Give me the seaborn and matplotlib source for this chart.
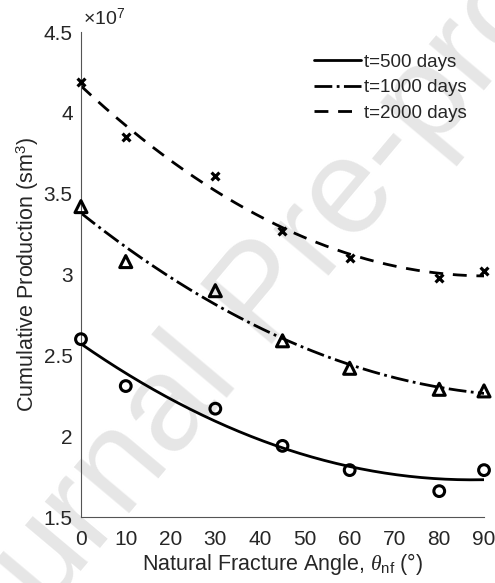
import numpy as np
import pandas as pd
import matplotlib
matplotlib.use("Agg")
import matplotlib.pyplot as plt
import seaborn as sns

# Data (values in units of 10^7 sm^3)
angles = [0, 10, 30, 45, 60, 80, 90]
prod_500 = [2.60, 2.31, 2.17, 1.94, 1.79, 1.66, 1.79]
prod_1000 = [3.42, 3.08, 2.90, 2.59, 2.42, 2.29, 2.28]
prod_2000 = [4.19, 3.85, 3.61, 3.27, 3.10, 2.98, 3.02]
labels = ["t=500 days", "t=1000 days", "t=2000 days"]
x_ticks = [0, 10, 20, 30, 40, 50, 60, 70, 80, 90]
y_ticks = [1.5, 2, 2.5, 3, 3.5, 4, 4.5]
y_tick_labels = ["1.5", "2", "2.5", "3", "3.5", "4", "4.5"]

sns.set_theme(style="white")
plt.rcParams["font.family"] = ["Liberation Sans", "DejaVu Sans"]
plt.rcParams["mathtext.fontset"] = "custom"
plt.rcParams["mathtext.rm"] = "Liberation Sans"
plt.rcParams["mathtext.it"] = "Liberation Serif:italic"

fig = plt.figure(figsize=(4.95, 5.83), dpi=100)
# watermark (behind the axes)
fig.text(0.535, 0.49, "Journal Pre-proof", fontsize=98, color="#e6e6e6",
         rotation=50, ha="center", va="center", zorder=-1)
ax = fig.add_axes([0.1636, 0.1132, 0.8142, 0.8319])
ax.patch.set_alpha(0)

series = [prod_500, prod_1000, prod_2000]
dash_styles = [None, (6.4, 1.6, 1, 1.6), (5.0, 3.5)]
markers = ["o", "^", "x"]
msizes = [60, 75, 32]

xfit = np.linspace(0, 90, 200)
for vals, dsh, mk, ms, lab in zip(series, dash_styles, markers, msizes, labels):
    coef = np.polyfit(angles, vals, 2)
    df_fit = pd.DataFrame({"x": xfit, "y": np.polyval(coef, xfit)})
    line_ax = sns.lineplot(data=df_fit, x="x", y="y", ax=ax, color="black",
                           linewidth=2.0, label=lab)
    ln = line_ax.get_lines()[-1]
    if dsh is not None:
        ln.set_dashes(dsh)
    df = pd.DataFrame({"x": angles, "y": vals})
    if mk == "x":
        sns.scatterplot(data=df, x="x", y="y", ax=ax, marker="x", s=ms,
                        color="black", linewidth=2.3, clip_on=False, zorder=5)
    else:
        sns.scatterplot(data=df, x="x", y="y", ax=ax, marker=mk, s=ms,
                        facecolor="none", edgecolor="black", linewidth=2.2,
                        clip_on=False, zorder=5)

ax.set_xlim(0, 90)
ax.set_ylim(1.5, 4.5)
ax.set_xticks(x_ticks)
ax.set_yticks(y_ticks)
ax.set_yticklabels(y_tick_labels)
ax.tick_params(direction="in", length=4, width=0.8, colors="#555555",
               labelcolor="#262626", labelsize=15)
ax.tick_params(axis="x", pad=9)
ax.tick_params(axis="y", pad=6)
for s in ["top", "right"]:
    ax.spines[s].set_visible(False)
for s in ["left", "bottom"]:
    ax.spines[s].set_color("#555555")
    ax.spines[s].set_linewidth(0.8)

ax.set_xlabel(r"Natural Fracture Angle, $\mathit{\theta}_{\mathrm{nf}}$ ($\degree$)",
              fontsize=15.5, color="#262626", labelpad=2)
ax.set_ylabel(r"Cumulative Production (sm$^3$)", fontsize=15.5, color="#262626", labelpad=2)
ax.text(0.005, 1.005, r"$\times$10$^7$", transform=ax.transAxes, fontsize=14,
        color="#262626", ha="left", va="bottom")

leg = ax.legend(loc="upper right", bbox_to_anchor=(1.0, 0.99), frameon=False,
                fontsize=13.5, handlelength=2.5, handletextpad=0.18, labelspacing=0.45)
for t in leg.get_texts():
    t.set_color("#262626")
handles = leg.legend_handles
handles[1].set_dashes((6.4, 1.6, 1, 1.6))
handles[2].set_dashes((5.0, 3.5))

fig.savefig("out.png", dpi=100)
